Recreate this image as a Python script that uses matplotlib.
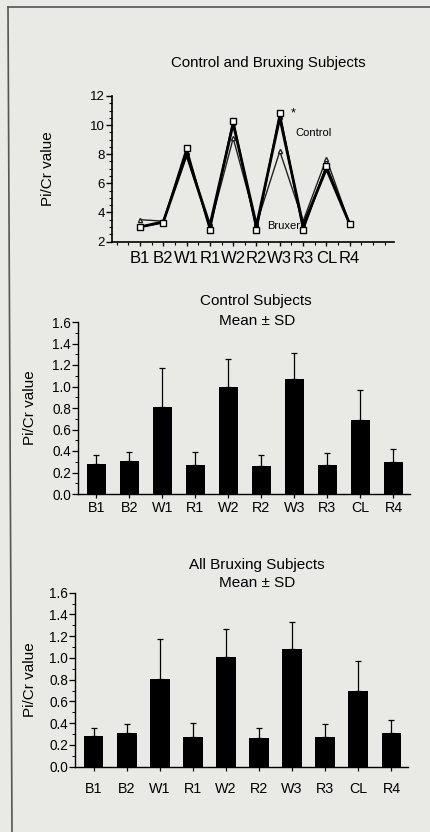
import numpy as np
import matplotlib
matplotlib.use("Agg")
import matplotlib.pyplot as plt
from matplotlib.ticker import MultipleLocator

plt.rcParams['font.family'] = ['Liberation Sans', 'DejaVu Sans']

# data
phases = ['B1', 'B2', 'W1', 'R1', 'W2', 'R2', 'W3', 'R3', 'CL', 'R4']

control_sq = [3.0, 3.3, 8.4, 2.8, 10.3, 2.8, 10.8, 2.8, 7.2, 3.2]
control_b = [3.0, 3.35, 8.0, 3.1, 10.1, 3.1, 10.5, 3.1, 7.0, 3.2]
bruxer = [3.5, 3.4, 7.9, 3.0, 9.1, 3.2, 8.2, 3.4, 7.7, 3.2]

ctrl_mean = [0.28, 0.31, 0.81, 0.27, 1.00, 0.26, 1.07, 0.27, 0.69, 0.30]
ctrl_sd = [0.08, 0.08, 0.36, 0.12, 0.26, 0.10, 0.24, 0.11, 0.28, 0.12]

brux_mean = [0.28, 0.31, 0.81, 0.27, 1.01, 0.26, 1.08, 0.27, 0.70, 0.31]
brux_sd = [0.08, 0.08, 0.36, 0.13, 0.26, 0.10, 0.25, 0.12, 0.27, 0.12]

W, H = 430, 832
bg = '#e9e9e6'
fig = plt.figure(figsize=(W / 100, H / 100), dpi=100, facecolor=bg)

def box(l, t, r, b):
    return [l / W, 1 - b / H, (r - l) / W, (b - t) / H]

# frame of the scanned panel
fig.add_artist(plt.Line2D([8 / W, 12 / W], [1 - 7 / H, 0], transform=fig.transFigure,
                          color='#555555', lw=1.2))
fig.add_artist(plt.Line2D([8 / W, 1], [1 - 7 / H, 1 - 7 / H], transform=fig.transFigure,
                          color='#555555', lw=1.2))

# ---- top: line chart ----
ax1 = fig.add_axes(box(112, 96, 394, 241.5))
ax1.set_facecolor('none')
x = np.arange(1, len(phases) + 1)
ax1.plot(x, bruxer, color='#222222', lw=1.0, marker='^', ms=3, mfc='white', mec='#222222')
ax1.plot(x, control_b, color='black', lw=2.0, marker='o', ms=2.5)
ax1.plot(x, control_sq, color='black', lw=1.4, marker='s', ms=4, mfc='white', mec='black', mew=1.0)
ax1.set_xlim(-0.2, 11.9)
ax1.set_ylim(2, 12)
ax1.set_yticks([2, 4, 6, 8, 10, 12])
ax1.yaxis.set_minor_locator(MultipleLocator(0.5))
ax1.set_xticks(x)
ax1.set_xticklabels(phases, fontsize=12)
ax1.xaxis.set_minor_locator(MultipleLocator(0.5))
ax1.tick_params(axis='y', labelsize=9.5, length=4, width=1, pad=1)
ax1.tick_params(axis='y', which='minor', length=2, width=0.8)
ax1.tick_params(axis='x', length=3, width=1, pad=4)
ax1.tick_params(axis='x', which='minor', length=2, width=0.8)
for s in ['top', 'right']:
    ax1.spines[s].set_visible(False)
for s in ['left', 'bottom']:
    ax1.spines[s].set_linewidth(1.2)
ax1.set_ylabel('Pi/Cr value', fontsize=11)
ax1.yaxis.set_label_coords(-0.202, 0.5)
ax1.text(7.48, 10.78, '*', fontsize=9, ha='left', va='center')
ax1.text(7.65, 9.48, 'Control', fontsize=8, ha='left', va='center')
ax1.text(6.45, 3.09, 'Bruxer', fontsize=8, ha='left', va='center')
fig.text(268 / W, 1 - 63 / H, 'Control and Bruxing Subjects', fontsize=10.8,
         ha='center', va='center')

# ---- bar charts ----
def bar_panel(rect, means, sds, label_x, xpad):
    ax = fig.add_axes(rect)
    ax.set_facecolor('none')
    xb = np.arange(len(phases))
    ax.bar(xb, means, width=0.6, color='black')
    ax.errorbar(xb, means, yerr=[np.zeros(len(sds)), sds], fmt='none',
                ecolor='black', elinewidth=0.9, capsize=2, capthick=0.9)
    ax.set_xlim(-0.56, 9.5)
    ax.set_ylim(0, 1.6)
    ax.set_yticks(np.arange(0, 1.61, 0.2))
    ax.set_yticklabels(['%.1f' % v for v in np.arange(0, 1.61, 0.2)])
    ax.yaxis.set_minor_locator(MultipleLocator(0.1))
    ax.set_xticks(xb)
    ax.set_xticklabels(phases, fontsize=10.3)
    ax.tick_params(axis='y', labelsize=9.8, length=4, width=0.9, pad=1)
    ax.tick_params(axis='y', which='minor', length=2, width=0.7)
    ax.tick_params(axis='x', length=3, width=0.9, pad=xpad)
    for s in ['top', 'right']:
        ax.spines[s].set_visible(False)
    for s in ['left', 'bottom']:
        ax.spines[s].set_linewidth(1.0)
    ax.set_ylabel('Pi/Cr value', fontsize=11)
    ax.yaxis.set_label_coords(label_x, 0.5)
    return ax

bar_panel(box(78, 322, 410, 494), ctrl_mean, ctrl_sd, -0.123, 2)
fig.text(256 / W, 1 - 301 / H, 'Control Subjects', fontsize=11, ha='center', va='center')
fig.text(257 / W, 1 - 321 / H, 'Mean \u00b1 SD', fontsize=11, ha='center', va='center')

bar_panel(box(75, 592.7, 408, 766.7), brux_mean, brux_sd, -0.114, 8)
fig.text(257 / W, 1 - 565 / H, 'All Bruxing Subjects', fontsize=11, ha='center', va='center')
fig.text(257 / W, 1 - 583 / H, 'Mean \u00b1 SD', fontsize=11, ha='center', va='center')

fig.savefig('out.png', dpi=100, facecolor=bg)
